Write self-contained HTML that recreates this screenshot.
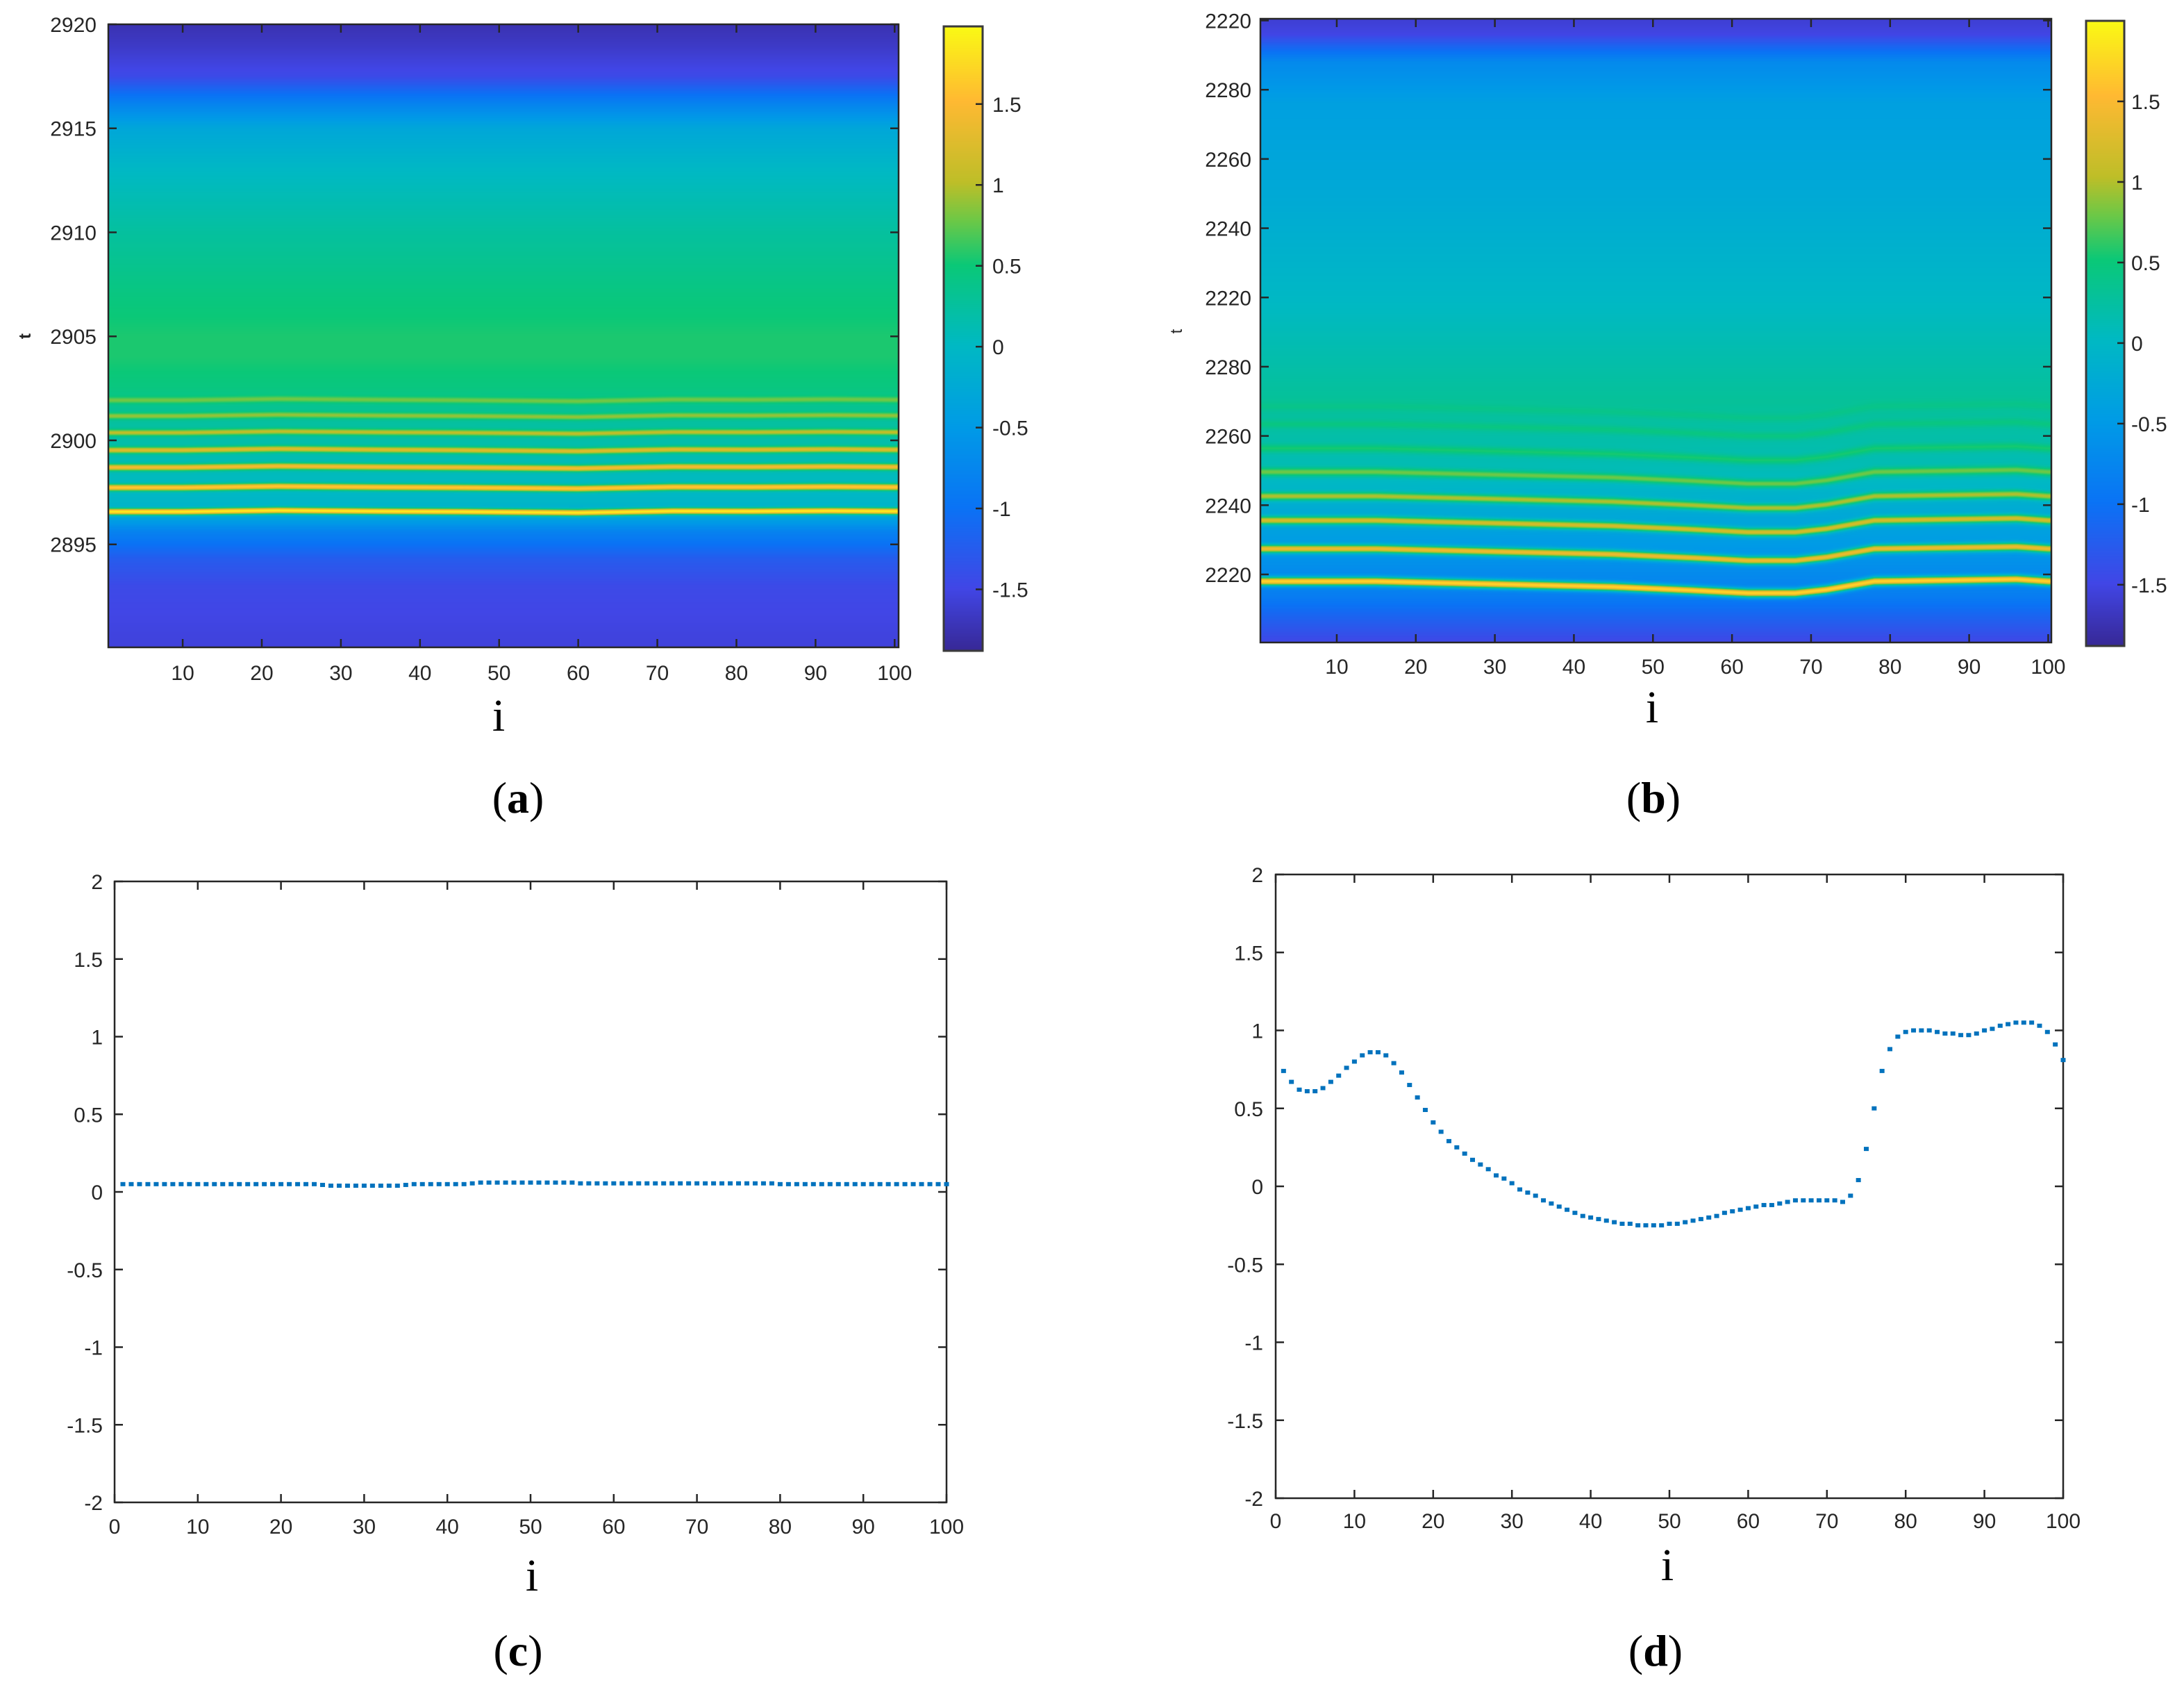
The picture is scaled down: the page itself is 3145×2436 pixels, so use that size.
<!DOCTYPE html>
<html><head><meta charset="utf-8"><style>
html,body{margin:0;padding:0;background:#fff;}
#wrap{position:relative;width:3145px;height:2436px;overflow:hidden;background:#fff;}
canvas{position:absolute;}
svg{position:absolute;left:0;top:0;}
text{font-family:"Liberation Sans",sans-serif;fill:#262626;}
.serif{font-family:"Liberation Serif",serif;fill:#000;}
</style></head><body>
<div id="wrap">
<canvas id="hmA"></canvas>
<canvas id="hmB"></canvas>
<canvas id="cbA"></canvas>
<canvas id="cbB"></canvas>
<svg id="svg" width="3145" height="2436" xmlns="http://www.w3.org/2000/svg"></svg>
</div>
<script>
// ---------- data ----------
const aBgT = [2890,2891,2893,2894.3,2895,2895.6,2896.2,2897,2899,2901,2902.5,2904,2905,2907,2910,2913,2915,2916.2,2916.8,2917.5,2919,2920];
const aBgV = [-1.55,-1.52,-1.45,-1.25,-1.0,-0.8,-0.4,-0.05,0.1,0.25,0.45,0.55,0.55,0.45,0.25,0.0,-0.3,-0.8,-1.1,-1.45,-1.65,-1.75];
const aBandT = [2901.93,2901.17,2900.37,2899.53,2898.7,2897.73,2896.57];
const aBandV = [0.8,0.9,1.05,1.25,1.45,1.65,1.9];
const aWigI = [0,10,22,35,45,60,72,82,92,100];
const aWigD = [0,0,0.06,0.02,0,-0.05,0.03,0.02,0.04,0.02];
const bBgU = [-0.05,0.2,0.4,0.6,1.2,2.5,4,5,5.5,6.5,7.2,7.8,8.3,8.6,9.0];
const bBgV = [-1.6,-1.5,-1.1,-0.7,-0.4,-0.25,0.0,0.2,0.3,0.1,-0.3,-0.6,-0.85,-1.15,-1.5];
const bBandU = [5.57,5.83,6.18,6.52,6.87,7.22,7.63,8.10];
const bBandV = [0.4,0.45,0.55,0.8,1.0,1.2,1.4,1.75];
const bWigI = [0,15,30,45,55,62,68,72,78,90,96,100];
const bWigD = [0,0,0.04,0.08,0.13,0.17,0.17,0.12,0.0,-0.02,-0.03,0.0];
const bTickLabels = ["2220","2280","2260","2240","2220","2280","2260","2240","2220"];
const cVals = [0.05,0.05,0.05,0.05,0.05,0.05,0.05,0.05,0.05,0.05,0.05,0.05,0.05,0.05,0.05,0.05,0.05,0.05,0.05,0.05,0.05,0.05,0.05,0.05,0.045,0.04,0.04,0.04,0.04,0.04,0.04,0.04,0.04,0.04,0.045,0.05,0.05,0.05,0.05,0.05,0.05,0.05,0.055,0.06,0.06,0.06,0.06,0.06,0.06,0.06,0.06,0.06,0.06,0.06,0.06,0.055,0.055,0.055,0.055,0.055,0.055,0.055,0.055,0.055,0.055,0.055,0.055,0.055,0.055,0.055,0.055,0.055,0.055,0.055,0.055,0.055,0.055,0.055,0.055,0.05,0.05,0.05,0.05,0.05,0.05,0.05,0.05,0.05,0.05,0.05,0.05,0.05,0.05,0.05,0.05,0.05,0.05,0.05,0.05,0.05];
const dVals = [0.74,0.67,0.62,0.61,0.61,0.63,0.67,0.71,0.76,0.80,0.84,0.86,0.86,0.84,0.79,0.73,0.65,0.57,0.49,0.41,0.35,0.29,0.25,0.21,0.17,0.14,0.11,0.07,0.05,0.02,-0.02,-0.04,-0.06,-0.09,-0.11,-0.13,-0.15,-0.17,-0.19,-0.20,-0.21,-0.22,-0.23,-0.24,-0.24,-0.25,-0.25,-0.25,-0.25,-0.24,-0.24,-0.23,-0.22,-0.21,-0.20,-0.19,-0.17,-0.16,-0.15,-0.14,-0.13,-0.12,-0.12,-0.11,-0.10,-0.09,-0.09,-0.09,-0.09,-0.09,-0.09,-0.10,-0.06,0.04,0.24,0.50,0.74,0.88,0.96,0.99,1.00,1.00,1.00,0.99,0.98,0.98,0.97,0.97,0.98,1.00,1.01,1.03,1.04,1.05,1.05,1.05,1.03,0.99,0.91,0.81];
const xTicksHeat = [10,20,30,40,50,60,70,80,90,100];
const xTicksLine = [0,10,20,30,40,50,60,70,80,90,100];
const yTicksLine = [2,1.5,1,0.5,0,-0.5,-1,-1.5,-2];
const yTicksA = [2920,2915,2910,2905,2900,2895];
const cbTicks = [1.5,1,0.5,0,-0.5,-1,-1.5];

// ---------- helpers ----------
const cmF = [0,0.1,0.23,0.36,0.49,0.617,0.69,0.75,0.88,1];
const cmC = [[55,40,150],[65,70,230],[10,115,245],[0,155,230],[0,185,195],[10,200,120],[110,200,70],[190,190,40],[255,185,50],[250,250,20]];
function cmap(v,lo,hi){
  let f=(v-lo)/(hi-lo); f=Math.max(0,Math.min(1,f));
  let k=0; while(k<cmF.length-2 && f>cmF[k+1]) k++;
  const r=(f-cmF[k])/(cmF[k+1]-cmF[k]);
  return cmC[k].map((c,j)=>Math.round(c+(cmC[k+1][j]-c)*r));
}
function interp(xs,ys,x){
  if(x<=xs[0])return ys[0];
  for(let k=1;k<xs.length;k++){ if(x<=xs[k]){const r=(x-xs[k-1])/(xs[k]-xs[k-1]);return ys[k-1]+(ys[k]-ys[k-1])*r;} }
  return ys[ys.length-1];
}
function lin(d0,d1,r0,r1){return v=>r0+(v-d0)/(d1-d0)*(r1-r0);}
const NS="http://www.w3.org/2000/svg", svg=document.getElementById('svg');
function el(tag,attrs,parent){const e=document.createElementNS(NS,tag);for(const k in attrs)e.setAttribute(k,attrs[k]);(parent||svg).appendChild(e);return e;}
function txt(x,y,s,size,anchor,cls,parent){const t=el('text',{x:x,y:y,'font-size':size,'text-anchor':anchor||'middle'},parent);if(cls)t.setAttribute('class',cls);t.textContent=s;return t;}

function drawHeat(id,box,xs,ys,valFn,lo,hi){
  const c=document.getElementById(id);const w=box.r-box.l,h=box.b-box.t;
  c.width=w;c.height=h;c.style.left=box.l+'px';c.style.top=box.t+'px';
  const ctx=c.getContext('2d');const img=ctx.createImageData(w,h);
  const xi=lin(box.l,box.r,xs[0],xs[1]), yu=lin(box.t,box.b,ys[0],ys[1]);
  for(let px=0;px<w;px++){const i=xi(box.l+px+0.5);
    for(let py=0;py<h;py++){const u=yu(box.t+py+0.5);const col=cmap(valFn(i,u),lo,hi);const o=(py*w+px)*4;
      img.data[o]=col[0];img.data[o+1]=col[1];img.data[o+2]=col[2];img.data[o+3]=255;}}
  ctx.putImageData(img,0,0);
}
function drawCbar(id,box,lo,hi){
  const c=document.getElementById(id);const w=box.r-box.l,h=box.b-box.t;
  c.width=w;c.height=h;c.style.left=box.l+'px';c.style.top=box.t+'px';
  const ctx=c.getContext('2d');const yv=lin(box.t,box.b,hi,lo);
  for(let py=0;py<h;py++){const col=cmap(yv(box.t+py+0.5),lo,hi);ctx.fillStyle=`rgb(${col})`;ctx.fillRect(0,py,w,1);}
}
function frame(box,name){
  el('rect',{x:box.l,y:box.t,width:box.r-box.l,height:box.b-box.t,fill:'none',stroke:'#262626','stroke-width':2.5,});
}
function xAxis(box,ticks,sx,labY,name){
  const g=el('g',{});
  ticks.forEach(v=>{const x=sx(v);
    el('line',{x1:x,y1:box.b,x2:x,y2:box.b-12,stroke:'#262626','stroke-width':2.5},g);
    el('line',{x1:x,y1:box.t,x2:x,y2:box.t+12,stroke:'#262626','stroke-width':2.5},g);
    txt(x,labY,String(v),30,'middle',null,g);});
}
function yAxis(box,ticks,labels,sy,labX,name){
  const g=el('g',{});
  ticks.forEach((v,k)=>{const y=sy(v);
    el('line',{x1:box.l,y1:y,x2:box.l+12,y2:y,stroke:'#262626','stroke-width':2.5},g);
    el('line',{x1:box.r,y1:y,x2:box.r-12,y2:y,stroke:'#262626','stroke-width':2.5},g);
    txt(labX,y+11,labels[k],30,'end',null,g);});
}
function cbAxis(box,lo,hi,labX,name){
  const g=el('g',{});
  el('rect',{x:box.l,y:box.t,width:box.r-box.l,height:box.b-box.t,fill:'none',stroke:'#3a3a3a','stroke-width':3},g);
  const sy=lin(lo,hi,box.b,box.t);
  cbTicks.forEach(v=>{const y=sy(v);el('line',{x1:box.r,y1:y,x2:box.r-10,y2:y,stroke:'#262626','stroke-width':2.5},g);
    txt(labX,y+11,String(v),30,'start',null,g);});
}

// ---------- panel a ----------
const A={l:156,r:1294,t:35,b:932};
const aLo=-1.88,aHi=1.98;
function aVal(i,t){
  let v=interp(aBgT,aBgV,t);const d=interp(aWigI,aWigD,i);
  aBandT.forEach((c,k)=>{const g=Math.exp(-Math.pow((t-(c+d))/0.15,2));v=v+(aBandV[k]-v)*g;});
  return v;}
drawHeat('hmA',A,[0.6,100.5],[2920,2890.05],aVal,aLo,aHi);
frame(A,'plot-frame-a');
const axA=lin(0.6,100.5,A.l,A.r), ayA=lin(2890.05,2920,A.b,A.t);
xAxis(A,xTicksHeat,axA,979,'x-axis-a');
yAxis(A,yTicksA,yTicksA.map(String),ayA,139,'y-axis-a');
const CBA={l:1359,r:1415,t:38,b:937};
drawCbar('cbA',CBA,aLo,aHi);
cbAxis(CBA,aLo,aHi,1429,'colorbar-axis-a');
let t1=txt(0,0,'t',24,'middle',null);t1.setAttribute('transform','translate(44,484) rotate(-90)');t1.setAttribute('font-weight','bold');

let ia=txt(718,1052,'i',66,'middle','serif');
let la=el('text',{x:746,y:1170,'font-size':64,'text-anchor':'middle',class:'serif',});la.innerHTML='(<tspan font-weight="bold">a</tspan>)';

// ---------- panel b ----------
const B={l:1815,r:2954,t:27,b:925};
const bLo=-1.88,bHi=2.0;
function bVal(i,u){
  let v=interp(bBgU,bBgV,u);const d=interp(bWigI,bWigD,i);
  bBandU.forEach((c,k)=>{const g=Math.exp(-Math.pow((u-(c+d))/0.06,2));v=v+(bBandV[k]-v)*g;});
  return v;}
const byB=lin(0,8,29.5,827);
drawHeat('hmB',B,[0.34,100.4],[(B.t-29.5)/99.69,(B.b-29.5)/99.69],bVal,bLo,bHi);
frame(B,'plot-frame-b');
const axB=lin(0.34,100.4,B.l,B.r);
xAxis(B,xTicksHeat,axB,970,'x-axis-b');
yAxis(B,[0,1,2,3,4,5,6,7,8],bTickLabels,byB,1802,'y-axis-b');
const CBB={l:3004,r:3059,t:30,b:930};
drawCbar('cbB',CBB,bLo,bHi);
cbAxis(CBB,bLo,bHi,3069,'colorbar-axis-b');
let t2=txt(0,0,'t',24,'middle',null);t2.setAttribute('transform','translate(1702,477) rotate(-90)');

let ib=txt(2379,1040,'i',66,'middle','serif');
let lb=el('text',{x:2381,y:1170,'font-size':64,'text-anchor':'middle',class:'serif',});lb.innerHTML='(<tspan font-weight="bold">b</tspan>)';

// ---------- line panels ----------
function linePanel(box,vals,key,labYx,labXy,iPos,lblPos){
  el('rect',{x:box.l,y:box.t,width:box.r-box.l,height:box.b-box.t,fill:'#fff'});
  frame(box,'plot-frame-'+key);
  const sx=lin(0,100,box.l,box.r), sy=lin(-2,2,box.b,box.t);
  xAxis(box,xTicksLine,sx,labYx,'x-axis-'+key);
  yAxis(box,yTicksLine,yTicksLine.map(String),sy,labXy,'y-axis-'+key);
  const g=el('g',{});
  vals.forEach((v,k)=>{
    const r=el('rect',{x:sx(k+1)-3.5,y:sy(v)-3,width:7,height:6,fill:'#0072bd'},g);
    
    
  });
  let it=txt(iPos[0],iPos[1],'i',66,'middle','serif');
  let l=el('text',{x:lblPos[0],y:lblPos[1],'font-size':64,'text-anchor':'middle',class:'serif'});
  
  l.innerHTML='(<tspan font-weight="bold">'+key+'</tspan>)';
}
linePanel({l:165,r:1363,t:1269,b:2163},cVals,'c',2208,148,[766,2290],[746,2398]);
linePanel({l:1837,r:2971,t:1259,b:2157},dVals,'d',2200,1819,[2401,2275],[2384,2398]);
</script>
</body></html>
